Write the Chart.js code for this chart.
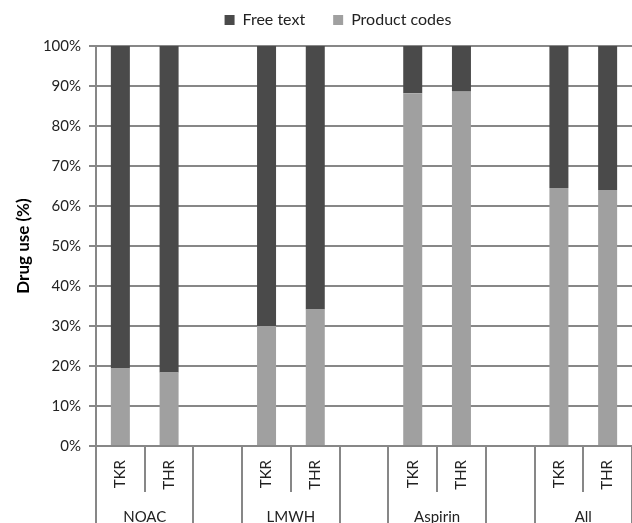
<!DOCTYPE html>
<html>
<head>
<meta charset="utf-8">
<script src="https://cdn.jsdelivr.net/npm/chart.js@4.4.1/dist/chart.umd.min.js"></script>
<style>
  html, body { margin: 0; padding: 0; background: #ffffff; }
  canvas { display: block; }
</style>
</head>
<body>
<canvas id="chart" width="632" height="523"></canvas>
<script>
// Slots along the x axis: two procedures per drug group, an empty spacer between groups
const categories = ['TKR', 'THR', '', 'TKR', 'THR', '', 'TKR', 'THR', '', 'TKR', 'THR'];
const groupLabels = ['NOAC', 'LMWH', 'Aspirin', 'All'];

// Share of drug use (%) recorded by each source
const productCodes = [19.4, 18.4, null, 30.0, 34.1, null, 88.2, 88.6, null, 64.5, 64.0];
const freeText     = [80.6, 81.6, null, 70.0, 65.9, null, 11.8, 11.4, null, 35.5, 36.0];

const yTickValues = [0, 10, 20, 30, 40, 50, 60, 70, 80, 90, 100];

const FONT = 'Lato, "Open Sans", "DejaVu Sans", sans-serif';
const TEXT = '#222222';
const GRID = '#878787';
const DARK = '#4a4a4a';
const LIGHT = '#a0a0a0';

function alignPx(px, w) {
  return Math.round(px - w / 2) + w / 2;
}

// Draws the long separators between drug groups and the group names under the axis
const groupAxis = {
  id: 'groupAxis',
  afterLayout(chart) {
    const lg = chart.legend;
    if (lg) {
      lg.left += 22;
      lg.right += 22;
      lg.top = -16;
    }
  },
  afterDraw(chart) {
    const xs = chart.scales.x;
    const ctx = chart.ctx;
    const runs = [];
    let i = 0;
    while (i < categories.length) {
      let j = i;
      if (categories[i] !== '') {
        while (j + 1 < categories.length && categories[j + 1] !== '') j++;
      }
      runs.push({ from: i, to: j, filled: categories[i] !== '' });
      i = j + 1;
    }
    const edges = new Set();
    runs.forEach(r => { edges.add(r.from - 0.5); edges.add(r.to + 0.5); });

    ctx.save();
    ctx.strokeStyle = GRID;
    ctx.lineWidth = 2;
    edges.forEach(e => {
      const px = alignPx(xs.getPixelForValue(e), 2);
      ctx.beginPath();
      ctx.moveTo(px, xs.top);
      ctx.lineTo(px, chart.height);
      ctx.stroke();
    });

    ctx.fillStyle = TEXT;
    ctx.font = '15px ' + FONT;
    ctx.textAlign = 'center';
    ctx.textBaseline = 'middle';
    let g = 0;
    runs.forEach(r => {
      if (!r.filled) return;
      const cx = (xs.getPixelForValue(r.from) + xs.getPixelForValue(r.to)) / 2;
      ctx.fillText(groupLabels[g++], cx, 517);
    });
    ctx.restore();
  }
};

new Chart(document.getElementById('chart'), {
  type: 'bar',
  data: {
    labels: categories,
    datasets: [
      {
        label: 'Product codes',
        data: productCodes,
        backgroundColor: LIGHT,
        borderWidth: 0
      },
      {
        label: 'Free text',
        data: freeText,
        backgroundColor: DARK,
        borderWidth: 0
      }
    ]
  },
  options: {
    responsive: false,
    animation: false,
    devicePixelRatio: 1,
    layout: { padding: 0 },
    datasets: {
      bar: { categoryPercentage: 1, barPercentage: 0.39 }
    },
    plugins: {
      tooltip: { enabled: false },
      legend: {
        position: 'top',
        maxHeight: 46,
        labels: {
          boxWidth: 10,
          boxHeight: 10,
          padding: 28,
          color: TEXT,
          font: { family: FONT, size: 16 },
          sort: (a, b) => b.datasetIndex - a.datasetIndex
        }
      }
    },
    scales: {
      x: {
        stacked: true,
        afterFit(scale) { scale.height = 77; },
        grid: {
          display: true,
          offset: true,
          drawOnChartArea: false,
          tickLength: 46,
          color: GRID,
          lineWidth: 2
        },
        border: { display: true, color: GRID, width: 2 },
        ticks: {
          autoSkip: false,
          minRotation: 90,
          maxRotation: 90,
          padding: -32,
          color: TEXT,
          font: { family: FONT, size: 15 }
        }
      },
      y: {
        stacked: true,
        min: 0,
        max: 100,
        afterFit(scale) { scale.width = 96; },
        afterBuildTicks(scale) { scale.ticks = yTickValues.map(v => ({ value: v })); },
        grid: {
          color: GRID,
          lineWidth: 2,
          tickLength: 7
        },
        border: { display: true, color: GRID, width: 2 },
        ticks: {
          padding: 8,
          color: TEXT,
          font: { family: FONT, size: 15 },
          callback: v => v + '%'
        },
        title: {
          display: true,
          text: 'Drug use (%)',
          color: '#000000',
          font: { family: FONT, size: 17, weight: 'bold' },
          padding: { top: 13, bottom: 0 }
        }
      }
    }
  },
  plugins: [groupAxis]
});
</script>
</body>
</html>
